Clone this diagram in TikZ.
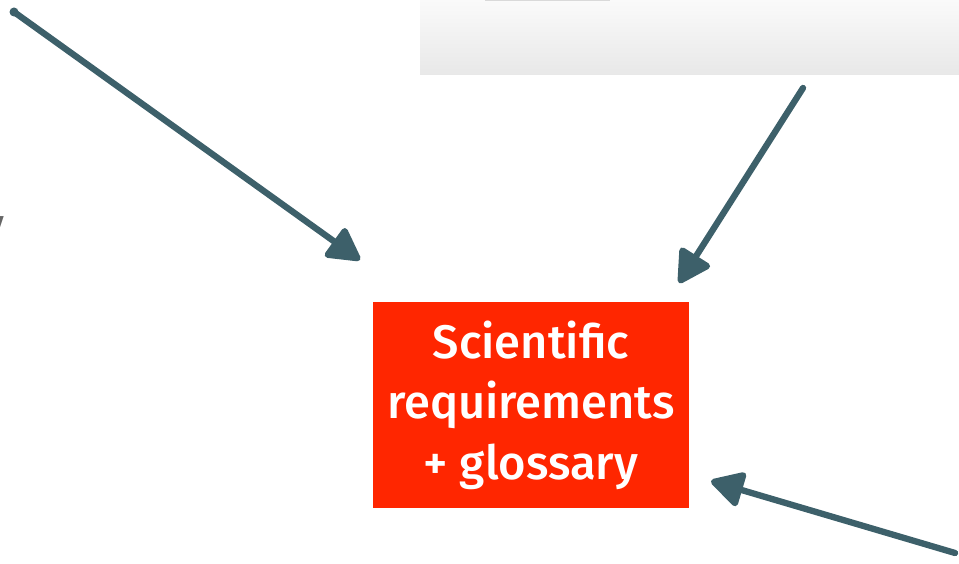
\documentclass[tikz,border=0pt]{standalone}
\usepackage{fontspec}
\setmainfont{Fira Sans}
\newfontfamily\boxfont{Fira Sans Medium}
\usetikzlibrary{positioning,arrows.meta}

\definecolor{reqred}{HTML}{FF2600}
\definecolor{arrowteal}{HTML}{3D606A}

\begin{document}
\begin{tikzpicture}[every node/.style={inner sep=0pt,outer sep=0pt},
				reqbox/.style={fill=reqred,text=white,minimum width=3.16cm,minimum height=2.06cm,align=center,
					font=\boxfont\fontsize{13.4}{17.2}\selectfont},
				link/.style={draw=arrowteal,line width=1.8pt,line cap=round,
					-{Triangle[length=0.36cm,width=0.38cm,round]}}]
				\useasboundingbox (0,0) rectangle (9.59,5.64);
				% panel at the top right
				\shade[top color=gray!4,bottom color=gray!18] (4.20,4.89) rectangle (9.59,5.64);
				\draw[gray!30,line width=0.4pt] (4.85,5.635) -- (6.10,5.635);
				\node (CUT) [anchor=east,text=gray!80!black,font=\fontsize{14}{16}\selectfont] at (0.05,3.29) {y};

				\node (REQ) [reqbox] at (5.31,1.59) {Scientific\\requirements\\+ glossary};

				\coordinate (A) at (0.14,5.52);
				\coordinate (B) at (8.03,4.76);
				\coordinate (C) at (9.55,0.11);
				\fill[arrowteal] (A) circle (0.045);
				\draw[link] (A) -- ([xshift=-0.13cm,yshift=0.42cm]REQ.north west);
				\draw[link] (B) -- ([xshift=-0.10cm,yshift=0.19cm]REQ.north east);
				\draw[link] (C) -- ([xshift=0.22cm,yshift=-0.76cm]REQ.east);
			\end{tikzpicture}
\end{document}
